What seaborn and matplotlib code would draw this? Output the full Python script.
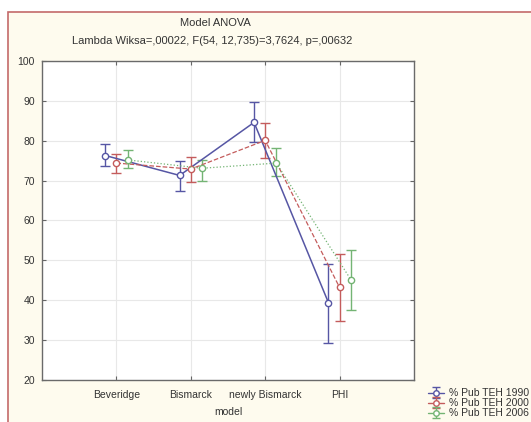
import numpy as np
import pandas as pd
import seaborn as sns
import matplotlib.pyplot as plt
from matplotlib.patches import Rectangle

# data
models = ['Beveridge', 'Bismarck', 'newly Bismarck', 'PHI']
series = ['% Pub TEH 1990', '% Pub TEH 2000', '% Pub TEH 2006']
mean_1990 = [76.3, 71.3, 84.6, 39.4]
low_1990 = [73.6, 67.3, 79.6, 29.4]
high_1990 = [79.2, 75.0, 89.6, 49.0]
mean_2000 = [74.4, 72.9, 80.1, 43.2]
low_2000 = [71.8, 69.6, 75.7, 34.8]
high_2000 = [76.7, 75.9, 84.4, 51.5]
mean_2006 = [75.2, 73.1, 74.4, 45.2]
low_2006 = [73.2, 69.8, 71.1, 37.6]
high_2006 = [77.6, 75.2, 78.3, 52.7]
yticks = [20, 30, 40, 50, 60, 70, 80, 90, 100]

means = [mean_1990, mean_2000, mean_2006]
lows = [low_1990, low_2000, low_2006]
highs = [high_1990, high_2000, high_2006]
colors = ['#5656a4', '#c45c5c', '#74b474']
dashes = ['-', '--', ':']
widths = [1.1, 0.9, 0.9]
offsets = [-0.15, 0.0, 0.15]

rows = []
for s, m, off in zip(series, means, offsets):
    for i, v in enumerate(m):
        rows.append({'pos': i + off, 'value': v, 'series': s})
df = pd.DataFrame(rows)

sns.set_theme(style='white')
plt.rcParams['font.family'] = ['Liberation Sans', 'DejaVu Sans']

fig = plt.figure(figsize=(5.31, 4.22), dpi=100, facecolor='white')
frame = Rectangle((8 / 531, -0.01), 1.0, 1 - 12 / 422 + 0.01,
                  transform=fig.transFigure, facecolor='#fefbee',
                  edgecolor='#c46a6a', linewidth=1.2, zorder=-5)
fig.add_artist(frame)
ax = fig.add_axes([42 / 531, 1 - 380 / 422, 372 / 531, 319 / 422])
ax.set_facecolor('white')

for s, c, ls, lw in zip(series, colors, dashes, widths):
    sub = df[df['series'] == s]
    sns.lineplot(data=sub, x='pos', y='value', color=c, linestyle=ls,
                 linewidth=lw, marker='o', markersize=4.5,
                 markerfacecolor='white', markeredgecolor=c,
                 markeredgewidth=1.0, ax=ax, legend=False, zorder=3)

handles = []
for s, m, lo, hi, off, c in zip(series, means, lows, highs, offsets, colors):
    x = np.arange(len(models)) + off
    m = np.array(m)
    err = [m - np.array(lo), np.array(hi) - m]
    ax.errorbar(x, m, yerr=err, fmt='none', ecolor=c, elinewidth=1.0,
                capsize=3.5, capthick=1.0, zorder=2)
    h = ax.errorbar([np.nan], [np.nan], yerr=[1.0], fmt='o', color=c,
                    markersize=4, markerfacecolor='white', capsize=3,
                    elinewidth=1.0, linestyle='-', linewidth=1.0)
    handles.append(h)

ax.set_xlim(-1, 4)
ax.set_ylim(20, 100)
ax.set_xticks(range(len(models)))
ax.set_xticklabels(models)
ax.set_yticks(yticks)
ax.grid(True, color='#e8e8e8', linewidth=0.8)
ax.tick_params(direction='in', top=True, right=True, length=3, width=0.8,
               color='#666666', labelsize=7.5, labelcolor='#333333', pad=5,
               left=True, bottom=True)
ax.tick_params(axis='x', pad=7)
for sp in ax.spines.values():
    sp.set_color('#6a6a6a')
    sp.set_linewidth(1.0)
ax.set_xlabel('model', fontsize=7.5, color='#333333', labelpad=5)
ax.set_ylabel('')

fig.text(215 / 531, 1 - 23 / 422, 'Model ANOVA', ha='center', va='center',
         fontsize=8, color='#333333')
fig.text(212 / 531, 1 - 41 / 422,
         'Lambda Wiksa=,00022, F(54, 12,735)=3,7624, p=,00632',
         ha='center', va='center', fontsize=8, color='#333333')

fig.legend(handles, series, loc='upper left',
           bbox_to_anchor=(423 / 531, 1 - 383 / 422), frameon=False,
           fontsize=7.5, labelspacing=0.0, handlelength=1.5,
           handletextpad=0.5, borderpad=0, labelcolor='#333333')

fig.savefig('out.png', dpi=100, facecolor=fig.get_facecolor())
